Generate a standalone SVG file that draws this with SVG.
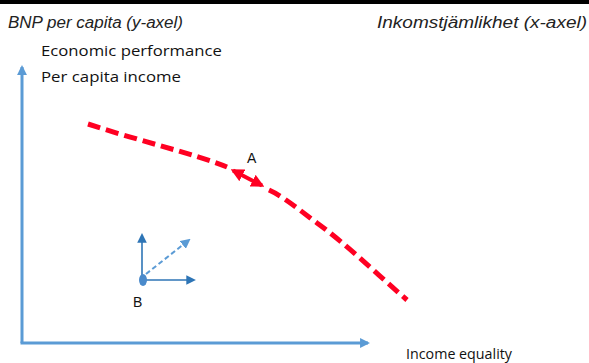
<svg xmlns="http://www.w3.org/2000/svg" width="589" height="363" viewBox="0 0 589 363">
<style>
.hdr{font-family:"Liberation Sans",Arial,sans-serif;font-style:italic;font-size:16px;fill:#222}
.lbl{font-family:"Open Sans","Liberation Sans",sans-serif;font-size:14px;fill:#111}
.pt{font-family:"Liberation Sans",Arial,sans-serif;font-size:14px;fill:#111}
.axis{stroke:#5B9BD5;stroke-width:3;fill:none}
.small{stroke:#2E75B6;stroke-width:1.6;fill:none}
.curve{stroke:#FF0022;stroke-width:5;fill:none;stroke-dasharray:13 6}
</style>
<defs>
<marker id="axHead" viewBox="0 0 10 10" refX="8" refY="5" markerWidth="3.3" markerHeight="3.3" orient="auto" markerUnits="strokeWidth"><path d="M0,0 L10,5 L0,10 z" fill="#5B9BD5"/></marker>
<marker id="smHead" viewBox="0 0 10 10" refX="8" refY="5" markerWidth="6" markerHeight="6" orient="auto" markerUnits="strokeWidth"><path d="M0,0 L10,5 L0,10 z" fill="#2E75B6"/></marker>
<marker id="smHeadL" viewBox="0 0 10 10" refX="8" refY="5" markerWidth="5" markerHeight="5" orient="auto" markerUnits="strokeWidth"><path d="M0,0 L10,5 L0,10 z" fill="#5B9BD5"/></marker>
<marker id="redHead" viewBox="0 0 10 10" refX="8" refY="5" markerWidth="3.3" markerHeight="3.3" orient="auto-start-reverse" markerUnits="strokeWidth"><path d="M0,0 L10,5 L0,10 z" fill="#FF0022"/></marker>
</defs>
<rect x="0" y="0" width="589" height="4" fill="#000"/>
<g id="headers">
<text class="hdr" x="8" y="28" textLength="175" lengthAdjust="spacingAndGlyphs">BNP per capita (y-axel)</text>
<text class="hdr" x="377" y="28" textLength="210" lengthAdjust="spacingAndGlyphs">Inkomstjämlikhet (x-axel)</text>
</g>
<g id="y-axis-label">
<text class="lbl" x="41" y="56" textLength="181" lengthAdjust="spacingAndGlyphs">Economic performance</text>
<text class="lbl" x="41" y="82" textLength="140" lengthAdjust="spacingAndGlyphs">Per capita income</text>
</g>
<g id="x-axis-label">
<text class="lbl" x="406" y="359" textLength="106" lengthAdjust="spacingAndGlyphs">Income equality</text>
</g>
<g id="connectors">
<path class="axis" d="M22,343 L22,67" marker-end="url(#axHead)"/>
<path class="axis" d="M20.5,343 L368,343" marker-end="url(#axHead)"/>
<path class="curve" d="M88,124 C136,140 195,154 227,167 M269,190 C280,195 288,201 317,223 C346,244 377,274 407,300"/>
<path d="M233,170.5 L262,185.5" stroke="#FF0022" stroke-width="4" fill="none" marker-start="url(#redHead)" marker-end="url(#redHead)"/>
<path class="small" d="M142,278 L142,235" marker-end="url(#smHead)"/>
<path class="small" d="M145,280 L194,280" marker-end="url(#smHead)"/>
<path d="M146,274 L189,240" stroke="#5B9BD5" stroke-width="2" stroke-dasharray="5 3" fill="none" marker-end="url(#smHeadL)"/>
</g>
<g id="point-A">
<text class="pt" x="247" y="163">A</text>
</g>
<g id="point-B">
<ellipse cx="143" cy="280" rx="4" ry="6" fill="#4A8ACB"/>
<text class="pt" x="133" y="307">B</text>
</g>
</svg>
